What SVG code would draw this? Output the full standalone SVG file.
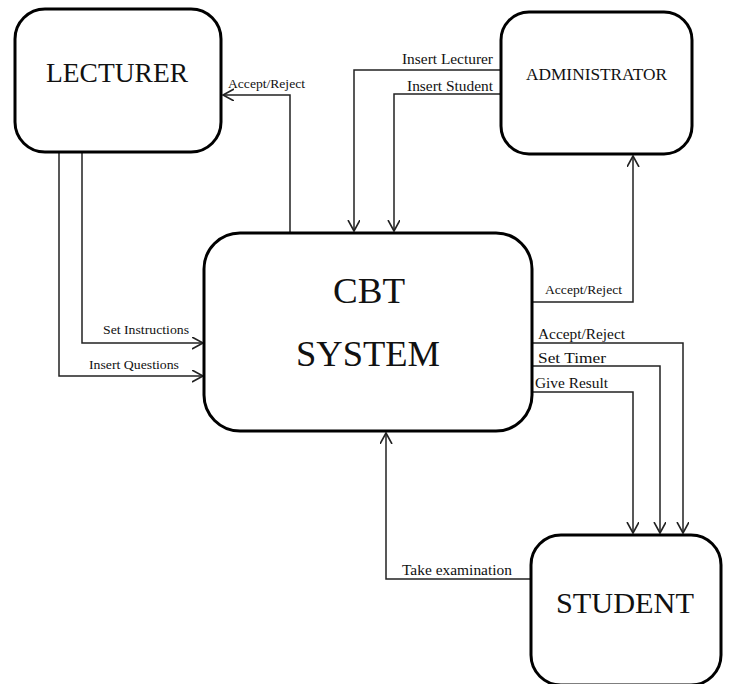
<svg xmlns="http://www.w3.org/2000/svg" width="729" height="684" viewBox="0 0 729 684">
  <style>
    .box { fill: #fff; stroke: #000; stroke-width: 3; }
    .ln { fill: none; stroke: #222; stroke-width: 1.5; }
    .lbl { font-family: "Liberation Serif", "Times New Roman", serif; fill: #111; }
  </style>
  <defs>
    <marker id="arr" markerUnits="userSpaceOnUse" markerWidth="14" markerHeight="14" refX="11" refY="6" orient="auto">
      <path d="M0,0 L11,6 L0,12" fill="none" stroke="#222" stroke-width="1.6"/>
    </marker>
  </defs>
  <rect width="729" height="684" fill="#fff"/>

  <g id="connectors">
    <path class="ln" d="M290,233 V95 H223" marker-end="url(#arr)"/>
    <path class="ln" d="M82,152 V343 H203" marker-end="url(#arr)"/>
    <path class="ln" d="M59,152 V376 H203" marker-end="url(#arr)"/>
    <path class="ln" d="M501,70 H354 V231" marker-end="url(#arr)"/>
    <path class="ln" d="M501,94 H394 V231" marker-end="url(#arr)"/>
    <path class="ln" d="M532,302 H633 V156" marker-end="url(#arr)"/>
    <path class="ln" d="M532,343 H683 V533" marker-end="url(#arr)"/>
    <path class="ln" d="M532,366 H660 V533" marker-end="url(#arr)"/>
    <path class="ln" d="M532,392 H633 V533" marker-end="url(#arr)"/>
    <path class="ln" d="M531,579 H386 V433" marker-end="url(#arr)"/>

    <text class="lbl" x="228" y="88" font-size="13" textLength="77" lengthAdjust="spacingAndGlyphs">Accept/Reject</text>
    <text class="lbl" x="103" y="334" font-size="13" textLength="86" lengthAdjust="spacingAndGlyphs">Set Instructions</text>
    <text class="lbl" x="89" y="369" font-size="13" textLength="90" lengthAdjust="spacingAndGlyphs">Insert Questions</text>
    <text class="lbl" x="402" y="64" font-size="14.5" textLength="91" lengthAdjust="spacingAndGlyphs">Insert Lecturer</text>
    <text class="lbl" x="407" y="91" font-size="14.5" textLength="86" lengthAdjust="spacingAndGlyphs">Insert Student</text>
    <text class="lbl" x="545" y="294" font-size="13" textLength="77" lengthAdjust="spacingAndGlyphs">Accept/Reject</text>
    <text class="lbl" x="538" y="339" font-size="15" textLength="87" lengthAdjust="spacingAndGlyphs">Accept/Reject</text>
    <text class="lbl" x="538" y="363" font-size="15" textLength="68" lengthAdjust="spacingAndGlyphs">Set Timer</text>
    <text class="lbl" x="535" y="388" font-size="15" textLength="73" lengthAdjust="spacingAndGlyphs">Give Result</text>
    <text class="lbl" x="402" y="575" font-size="15" textLength="110" lengthAdjust="spacingAndGlyphs">Take examination</text>
  </g>

  <g id="lecturer">
    <rect class="box" x="15" y="9" width="206" height="143" rx="30"/>
    <text class="lbl" x="46" y="82" font-size="27" textLength="142" lengthAdjust="spacingAndGlyphs">LECTURER</text>
  </g>

  <g id="administrator">
    <rect class="box" x="501" y="12" width="191" height="142" rx="28"/>
    <text class="lbl" x="526" y="80" font-size="16.5" textLength="141" lengthAdjust="spacingAndGlyphs">ADMINISTRATOR</text>
  </g>

  <g id="cbt-system">
    <rect class="box" x="204" y="233" width="328" height="198" rx="36"/>
    <text class="lbl" x="333" y="303" font-size="35" textLength="72" lengthAdjust="spacingAndGlyphs">CBT</text>
    <text class="lbl" x="296" y="366" font-size="35" textLength="144" lengthAdjust="spacingAndGlyphs">SYSTEM</text>
  </g>

  <g id="student">
    <rect class="box" x="531" y="535" width="190" height="150" rx="30"/>
    <text class="lbl" x="556" y="613" font-size="29" textLength="138" lengthAdjust="spacingAndGlyphs">STUDENT</text>
  </g>
</svg>
